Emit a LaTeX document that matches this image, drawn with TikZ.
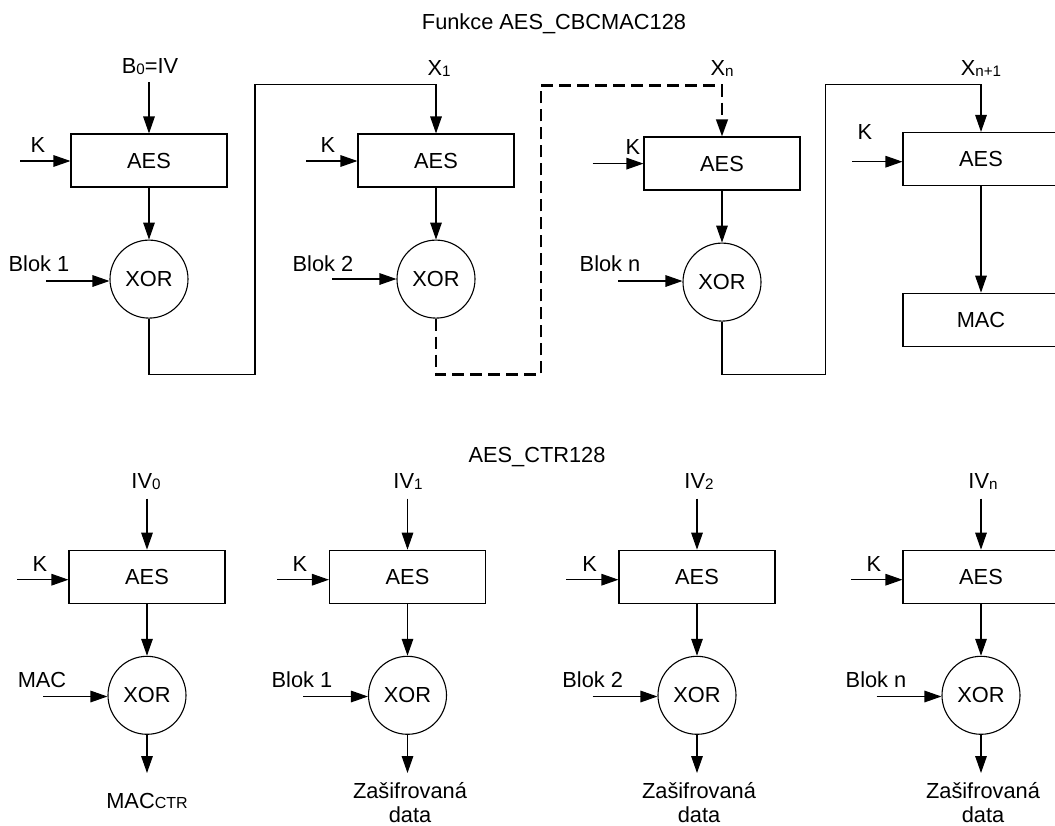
\documentclass[tikz,border=0pt]{standalone}
\usepackage{fontspec}
\setmainfont{Liberation Sans}
\usetikzlibrary{arrows.meta,positioning}
\newcommand{\lowidx}[1]{\raisebox{-0.6pt}{\fontsize{7.6}{9}\selectfont #1}}

\begin{document}
\begin{tikzpicture}[
  x=0.5pt, y=-0.5pt,
  font=\fontsize{10.9}{12.5}\selectfont,
  line width=0.55pt,
  aes/.style={draw, minimum width=78pt, minimum height=26.5pt, inner sep=0pt},
  xorc/.style={draw, circle, minimum size=39pt, inner sep=0pt},
  arr/.style={-{Triangle[length=8.5pt, width=5.8pt]}},
  fb/.style={arr, line width=1.1pt, dash pattern=on 6pt off 3pt},
  lbl/.style={anchor=base, inner sep=0pt},
  outlbl/.style={lbl, align=center, font=\fontsize{10.9}{11.6}\selectfont}
]
  \path[use as bounding box, clip] (0,0) rectangle (1055,825);

  % CBC-MAC chain (top)
  \node[lbl] (title1) at (554,29.7) {Funkce AES\_CBCMAC128};

  \node[aes] (aes1) at (149,160.5) {AES};
  \node[aes] (aes2) at (436,160.5) {AES};
  \node[aes] (aes3) at (722,163.5) {AES};
  \node[aes] (aes4) at (981,159) {AES};
  \node[xorc, below=26pt of aes1] (xor1) {XOR};
  \node[xorc, below=26pt of aes2] (xor2) {XOR};
  \node[xorc, below=26pt of aes3] (xor3) {XOR};
  \node[aes, below=53.3pt of aes4] (mac) {MAC};

  \draw[arr] (aes1) -- (xor1);
  \draw[arr] (aes2) -- (xor2);
  \draw[arr] (aes3) -- (xor3);
  \draw[arr] (aes4) -- (mac);

  % inputs of the chain
  \node[lbl] (ivlab) at (150,73.4) {B\lowidx{0}=IV};
  \coordinate (iv) at (149,82);
  \draw[arr] (iv) -- (aes1);
  \node[lbl] (xlab1) at (439,75) {X\lowidx{1}};
  \node[lbl] (xlab2) at (722,75) {X\lowidx{n}};
  \node[lbl] (xlab3) at (981,75) {X\lowidx{n+1}};

  \node[lbl] (klab1) at (38,152) {K};
  \node[lbl] (klab2) at (328,152) {K};
  \node[lbl] (klab3) at (633,154) {K};
  \node[lbl] (klab4) at (865,139.3) {K};
  \coordinate (k1) at (20,161);
  \coordinate (k2) at (306,161);
  \coordinate (k3) at (592.6,163.6);
  \coordinate (k4) at (852,161.7);
  \draw[arr] (k1) -- (k1 -| aes1.west);
  \draw[arr] (k2) -- (k2 -| aes2.west);
  \draw[arr] (k3) -- (k3 -| aes3.west);
  \draw[arr] (k4) -- (k4 -| aes4.west);

  \node[lbl] (blab1) at (39,271.5) {Blok 1};
  \node[lbl] (blab2) at (323,271.5) {Blok 2};
  \node[lbl] (blab3) at (610,271.5) {Blok n};
  \coordinate (b1) at (46,281);
  \coordinate (b2) at (332,279);
  \coordinate (b3) at (618,281);
  \draw[arr] (b1) -- (b1 -| xor1.west);
  \draw[arr] (b2) -- (b2 -| xor2.west);
  \draw[arr] (b3) -- (b3 -| xor3.west);

  % feedback X_i into the next AES
  \coordinate (r1) at (255,374.5);
  \coordinate (t1) at (255,84.5);
  \coordinate (r2) at (541,374.5);
  \coordinate (t2) at (541,85.5);
  \coordinate (r3) at (825.5,374.5);
  \coordinate (t3) at (825.5,84.5);
  \draw[arr] (xor1.south) |- (r1) -- (t1) -| (aes2.north);
  \draw[fb] (xor2.south) |- (r2) -- (t2) -| (aes3.north);
  \draw[arr] (xor3.south) |- (r3) -- (t3) -| (aes4.north);

  % CTR mode (bottom)
  \node[lbl] (title2) at (537,462) {AES\_CTR128};

  \node[aes] (ctr1) at (147,576.7) {AES};
  \node[aes] (ctr2) at (407.5,576.7) {AES};
  \node[aes] (ctr3) at (697,576.7) {AES};
  \node[aes] (ctr4) at (981,576.7) {AES};
  \node[xorc, below=26pt of ctr1] (xorb1) {XOR};
  \node[xorc, below=26pt of ctr2] (xorb2) {XOR};
  \node[xorc, below=26pt of ctr3] (xorb3) {XOR};
  \node[xorc, below=26pt of ctr4] (xorb4) {XOR};

  \draw[arr] (ctr1) -- (xorb1);
  \draw[arr] (ctr2) -- (xorb2);
  \draw[arr] (ctr3) -- (xorb3);
  \draw[arr] (ctr4) -- (xorb4);

  \node[lbl] (ivb1) at (146,488) {IV\lowidx{0}};
  \node[lbl] (ivb2) at (408,488) {IV\lowidx{1}};
  \node[lbl] (ivb3) at (699,488) {IV\lowidx{2}};
  \node[lbl] (ivb4) at (983,488) {IV\lowidx{n}};
  \coordinate (i1) at (147,498.6);
  \coordinate (i2) at (407.5,498.6);
  \coordinate (i3) at (697,498.6);
  \coordinate (i4) at (981,498.6);
  \draw[arr] (i1) -- (ctr1);
  \draw[arr] (i2) -- (ctr2);
  \draw[arr] (i3) -- (ctr3);
  \draw[arr] (i4) -- (ctr4);

  \node[lbl] (kb1) at (40,571) {K};
  \node[lbl] (kb2) at (300,571) {K};
  \node[lbl] (kb3) at (589.6,571) {K};
  \node[lbl] (kb4) at (874,571) {K};
  \coordinate (q1) at (17,579.7);
  \coordinate (q2) at (277,579.7);
  \coordinate (q3) at (566,579.7);
  \coordinate (q4) at (851,579.7);
  \draw[arr] (q1) -- (q1 -| ctr1.west);
  \draw[arr] (q2) -- (q2 -| ctr2.west);
  \draw[arr] (q3) -- (q3 -| ctr3.west);
  \draw[arr] (q4) -- (q4 -| ctr4.west);

  \node[lbl] (dlab1) at (42,687) {MAC};
  \node[lbl] (dlab2) at (302,687) {Blok 1};
  \node[lbl] (dlab3) at (592.7,687) {Blok 2};
  \node[lbl] (dlab4) at (876,687) {Blok n};
  \coordinate (d1) at (43,696.5);
  \coordinate (d2) at (303,696.5);
  \coordinate (d3) at (592.6,696.5);
  \coordinate (d4) at (876.5,696.5);
  \draw[arr] (d1) -- (d1 -| xorb1.west);
  \draw[arr] (d2) -- (d2 -| xorb2.west);
  \draw[arr] (d3) -- (d3 -| xorb3.west);
  \draw[arr] (d4) -- (d4 -| xorb4.west);

  \coordinate (o1) at (147,773);
  \coordinate (o2) at (407.5,773);
  \coordinate (o3) at (697,773);
  \coordinate (o4) at (981,773);
  \draw[arr] (xorb1) -- (o1);
  \draw[arr] (xorb2) -- (o2);
  \draw[arr] (xorb3) -- (o3);
  \draw[arr] (xorb4) -- (o4);

  \node[lbl] (olab1) at (147,808) {MAC{\fontsize{8}{9}\selectfont CTR}};
  \node[outlbl] (olab2) at (410,822) {Zašifrovaná\\data};
  \node[outlbl] (olab3) at (699,822) {Zašifrovaná\\data};
  \node[outlbl] (olab4) at (983,822) {Zašifrovaná\\data};
\end{tikzpicture}
\end{document}
